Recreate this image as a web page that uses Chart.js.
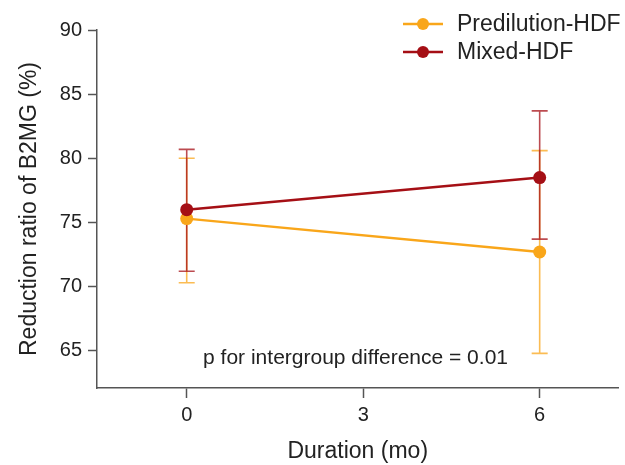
<!DOCTYPE html>
<html>
<head>
<meta charset="utf-8">
<script src="https://cdn.jsdelivr.net/npm/chart.js@4"></script>
<style>
  html, body { margin: 0; padding: 0; background: #fff; }
  #wrap { width: 625px; height: 465px; }
</style>
</head>
<body>
<div id="wrap"><canvas id="chart"></canvas></div>
<script>
const months = [0, 6];
const xTicks = [0, 3, 6];
const yTicks = [65, 70, 75, 80, 85, 90];

const preMean = [75.3, 72.7];
const preLow = [70.3, 64.8];
const preHigh = [80.0, 80.6];

const mixMean = [76.0, 78.5];
const mixLow = [71.2, 73.7];
const mixHigh = [80.7, 83.7];

const seriesNames = ['Predilution-HDF', 'Mixed-HDF'];
const pValueText = 'p for intergroup difference = 0.01';

const ORANGE = '#F9A61A';
const RED = '#A50F15';
const FONT = 'Liberation Sans, Arial, Helvetica, sans-serif';
const TEXT = '#222222';
const AXIS = '#555555';

function toPoints(xs, ys) {
  return xs.map((x, i) => ({ x, y: ys[i] }));
}

const errorBars = [
  { low: preLow, high: preHigh, color: 'rgba(249, 166, 26, 0.75)', cap: 8 },
  { low: mixLow, high: mixHigh, color: 'rgba(165, 15, 21, 0.75)', cap: 8 }
];

const errorBarPlugin = {
  id: 'errorBars',
  beforeDatasetsDraw(chart) {
    const { ctx, scales: { x, y } } = chart;
    ctx.save();
    ctx.lineWidth = 1.6;
    errorBars.forEach((bar) => {
      ctx.strokeStyle = bar.color;
      months.forEach((m, i) => {
        const px = x.getPixelForValue(m);
        const top = y.getPixelForValue(bar.high[i]);
        const bottom = y.getPixelForValue(bar.low[i]);
        ctx.beginPath();
        ctx.moveTo(px, top);
        ctx.lineTo(px, bottom);
        ctx.moveTo(px - bar.cap, top);
        ctx.lineTo(px + bar.cap, top);
        ctx.moveTo(px - bar.cap, bottom);
        ctx.lineTo(px + bar.cap, bottom);
        ctx.stroke();
      });
    });
    ctx.restore();
  }
};

const annotationPlugin = {
  id: 'annotations',
  afterDraw(chart) {
    const { ctx, scales: { x, y } } = chart;
    ctx.save();
    ctx.fillStyle = TEXT;
    ctx.font = `21px ${FONT}`;
    ctx.textAlign = 'center';
    ctx.textBaseline = 'middle';
    ctx.fillText(pValueText, x.getPixelForValue(2.87), y.getPixelForValue(64.45));

    // legend: line with a dot in the middle
    const colors = [ORANGE, RED];
    seriesNames.forEach((name, i) => {
      const cy = 24 + i * 28;
      ctx.strokeStyle = colors[i];
      ctx.fillStyle = colors[i];
      ctx.lineWidth = 2.5;
      ctx.beginPath();
      ctx.moveTo(403, cy);
      ctx.lineTo(443, cy);
      ctx.stroke();
      ctx.beginPath();
      ctx.arc(423, cy, 6, 0, Math.PI * 2);
      ctx.fill();
      ctx.fillStyle = TEXT;
      ctx.font = `23px ${FONT}`;
      ctx.textAlign = 'left';
      ctx.fillText(name, 457, cy + 1);
    });
    ctx.restore();
  }
};

function lineDataset(label, data, color) {
  return {
    label,
    data,
    borderColor: color,
    backgroundColor: color,
    borderWidth: 2.5,
    pointRadius: 6.5,
    pointHoverRadius: 6.5,
    pointBorderWidth: 0,
    tension: 0
  };
}

new Chart(document.getElementById('chart'), {
  type: 'line',
  data: {
    datasets: [
      lineDataset(seriesNames[1], toPoints(months, mixMean), RED),
      lineDataset(seriesNames[0], toPoints(months, preMean), ORANGE)
    ]
  },
  options: {
    responsive: true,
    maintainAspectRatio: false,
    animation: false,
    layout: { padding: { top: 30, right: 5, left: 0, bottom: 0 } },
    plugins: {
      legend: { display: false },
      tooltip: { enabled: false }
    },
    scales: {
      x: {
        type: 'linear',
        min: -1.525,
        max: 7.34,
        afterBuildTicks(scale) {
          scale.ticks = xTicks.map((v) => ({ value: v }));
        },
        afterFit(scale) {
          scale.height = 77;
        },
        ticks: {
          color: TEXT,
          font: { family: FONT, size: 20 },
          padding: 5
        },
        grid: {
          drawOnChartArea: false,
          drawTicks: true,
          tickLength: 10,
          tickColor: AXIS,
          tickWidth: 1.5
        },
        border: { display: true, color: AXIS, width: 1.5 },
        title: {
          display: true,
          text: 'Duration (mo)',
          color: TEXT,
          font: { family: FONT, size: 23 },
          padding: { top: 0, bottom: 0 }
        }
      },
      y: {
        type: 'linear',
        min: 62.1,
        max: 90,
        afterBuildTicks(scale) {
          scale.ticks = yTicks.map((v) => ({ value: v }));
        },
        afterFit(scale) {
          scale.width = 97;
        },
        ticks: {
          color: TEXT,
          font: { family: FONT, size: 20 },
          padding: 6
        },
        grid: {
          drawOnChartArea: false,
          drawTicks: true,
          tickLength: 9,
          tickColor: AXIS,
          tickWidth: 1.5
        },
        border: { display: true, color: AXIS, width: 1.5 },
        title: {
          display: true,
          text: 'Reduction ratio of B2MG (%)',
          color: TEXT,
          font: { family: FONT, size: 23 },
          padding: { top: 16, bottom: 0 }
        }
      }
    }
  },
  plugins: [errorBarPlugin, annotationPlugin]
});
</script>
</body>
</html>
